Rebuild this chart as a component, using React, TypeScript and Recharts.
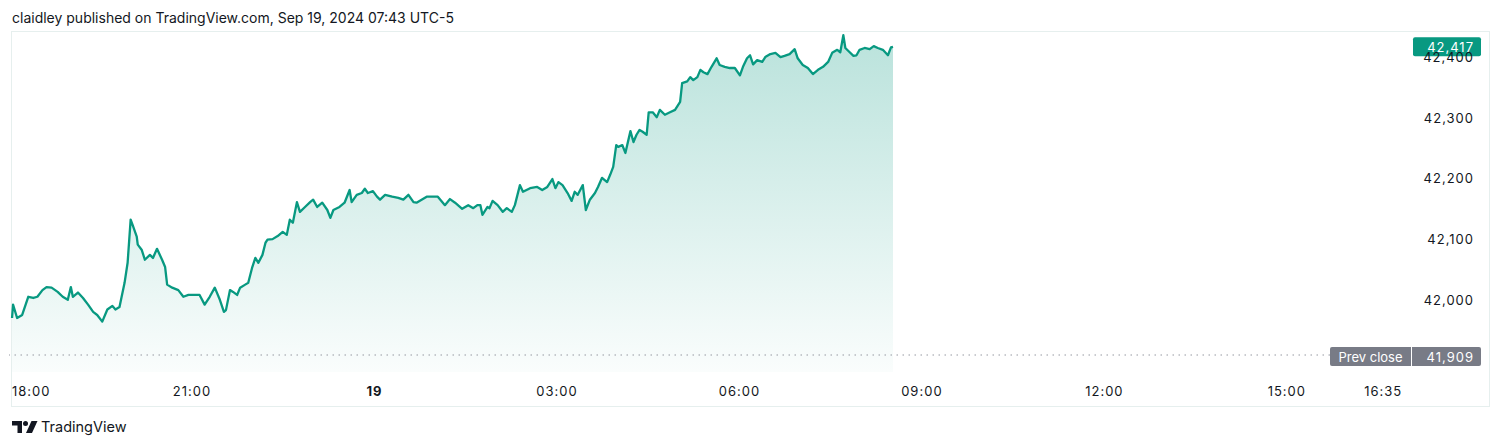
import { ComposedChart, Area, XAxis, YAxis, ReferenceLine } from 'recharts';

// [minutes since 18:00, price]
const evening: [number, number][] = [
  [3, 41970], [4, 41992], [8, 41970], [13, 41975], [19, 42005], [24, 42003], [28, 42005], [33, 42016],
  [37, 42021], [42, 42020], [48, 42013], [53, 42005], [58, 42000], [61, 42021], [63, 42005], [68, 42012],
  [73, 42003], [78, 41992], [83, 41980], [87, 41975], [92, 41964], [97, 41984], [102, 41990], [105, 41984],
  [109, 41988], [114, 42028], [117, 42061], [120, 42132], [122, 42123], [126, 42104], [127, 42091],
  [131, 42082], [134, 42066], [139, 42074], [142, 42069], [146, 42084], [151, 42066], [154, 42054],
  [156, 42025], [161, 42020], [167, 42016], [172, 42005], [177, 42008], [181, 42008], [188, 42008],
  [193, 41992], [198, 42005], [203, 42020], [208, 42000], [212, 41980],
];

const overnight: [number, number][] = [
  [214, 41983], [218, 42016], [221, 42013], [225, 42008], [228, 42020], [233, 42025], [236, 42028],
  [240, 42054], [243, 42069], [246, 42061], [250, 42074], [253, 42094], [255, 42099], [260, 42100],
  [265, 42105], [270, 42112], [274, 42107], [277, 42132], [280, 42127], [284, 42161], [287, 42145],
  [292, 42153], [297, 42161], [300, 42165], [304, 42153], [309, 42160], [314, 42148], [317, 42135],
  [320, 42148], [326, 42153], [331, 42160], [336, 42181], [338, 42161], [343, 42173], [348, 42176],
  [351, 42183], [354, 42176], [359, 42179], [363, 42170], [366, 42165], [371, 42173], [378, 42170],
  [384, 42168], [389, 42165], [394, 42173], [399, 42161], [402, 42160], [407, 42165], [412, 42170],
  [417, 42170], [423, 42170], [430, 42156], [435, 42166],
];

const earlyMorning: [number, number][] = [
  [440, 42160], [447, 42150], [453, 42156], [458, 42151], [462, 42156], [465, 42156], [467, 42140],
  [472, 42153], [474, 42151], [477, 42163], [482, 42156], [487, 42145], [491, 42151], [496, 42145],
  [499, 42156], [504, 42189], [507, 42178], [514, 42184], [521, 42186], [526, 42181], [531, 42186],
  [536, 42199], [539, 42184], [542, 42194], [546, 42189], [551, 42176], [555, 42163], [558, 42178],
  [561, 42173], [566, 42189], [569, 42148], [573, 42165], [578, 42176], [581, 42186], [585, 42201],
  [590, 42194], [593, 42206], [596, 42219], [599, 42255], [601, 42252], [605, 42255], [608, 42242],
  [613, 42278], [616, 42260], [619, 42272], [622, 42280], [625, 42277], [629, 42272], [631, 42309],
  [635, 42309], [639, 42301], [642, 42313], [647, 42305], [652, 42309], [657, 42313],
];

const morning: [number, number][] = [
  [662, 42326], [664, 42357], [669, 42360], [672, 42367], [675, 42362], [679, 42367], [682, 42379],
  [685, 42375], [689, 42372], [693, 42384], [698, 42398], [701, 42387], [706, 42384], [711, 42382],
  [716, 42382], [721, 42370], [724, 42384], [728, 42398], [731, 42403], [734, 42388], [738, 42395],
  [743, 42392], [746, 42400], [751, 42405], [756, 42407], [761, 42400], [765, 42402], [770, 42405],
  [775, 42413], [778, 42398], [783, 42387], [788, 42382], [793, 42372], [798, 42379], [803, 42384],
  [808, 42392], [812, 42407], [817, 42412], [820, 42408], [823, 42436], [825, 42415], [828, 42410],
  [833, 42402], [836, 42403], [839, 42412], [844, 42415], [849, 42413], [853, 42418], [857, 42415],
  [862, 42412], [867, 42403], [870, 42416], [872, 42417],
];

const priceTicks = [42000, 42100, 42200, 42300, 42400];
const timeTicks = [0, 180, 360, 540, 720, 900, 1080, 1260, 1355];
const timeLabels = ['18:00', '21:00', '19', '03:00', '06:00', '09:00', '12:00', '15:00', '16:35'];
const lastPrice = 42417;
const prevClose = 41909;

const data = [...evening, ...overnight, ...earlyMorning, ...morning].map(([t, price]) => ({ t, price }));

const TEXT = '#131722';
const GREEN = '#089981';
const GREY = '#787b86';
const fmt = (v: number) => v.toLocaleString('en-US');

function TimeTick({ x, y, payload }: any) {
  const i = timeTicks.indexOf(payload.value);
  const label = timeLabels[i];
  const first = i === 0;
  return (
    <text
      x={first ? 12 : x + 0.5}
      y={y + 24}
      textAnchor={first ? 'start' : 'middle'}
      fontSize={13}
      letterSpacing={1}
      fill={TEXT}
      fontWeight={label === '19' ? 700 : 400}
    >
      {label}
    </text>
  );
}

function PriceTick({ x, y, payload }: any) {
  return (
    <text x={x + 66} y={y + 5} textAnchor="end" fontSize={13} letterSpacing={1} fill={TEXT}>
      {fmt(payload.value)}
    </text>
  );
}

function LastPriceTag({ viewBox }: any) {
  const left = viewBox.x + viewBox.width + 5;
  return (
    <g>
      <rect x={left} y={viewBox.y - 9.5} width={68} height={19} rx={2} fill={GREEN} />
      <text x={left + 61} y={viewBox.y + 5} textAnchor="end" fontSize={13} letterSpacing={1} fill="#fff">
        {fmt(lastPrice)}
      </text>
    </g>
  );
}

function PrevCloseTag({ viewBox }: any) {
  const right = viewBox.x + viewBox.width;
  return (
    <g>
      <rect x={right - 78} y={viewBox.y - 8} width={151} height={19} rx={2} fill={GREY} />
      <line x1={right + 3.5} x2={right + 3.5} y1={viewBox.y - 8} y2={viewBox.y + 11} stroke="#fff" />
      <text x={right - 37.5} y={viewBox.y + 6.5} textAnchor="middle" fontSize={13} fill="#fff">
        Prev close
      </text>
      <text x={right + 66} y={viewBox.y + 6.5} textAnchor="end" fontSize={13} letterSpacing={1} fill="#fff">
        {fmt(prevClose)}
      </text>
    </g>
  );
}

export default function App() {
  return (
    <div style={{ position: 'relative', width: 1500, height: 448, background: '#fff', fontFamily: 'Inter, sans-serif', color: TEXT }}>
      <style>{'body{margin:0}'}</style>
      <div style={{ position: 'absolute', left: 12, top: 9, fontSize: 14 }}>
        claidley published on TradingView.com, Sep 19, 2024 07:43 UTC-5
      </div>
      <div
        style={{
          position: 'absolute', left: 11, top: 31, width: 1477, height: 374,
          border: '1px solid #e6efee',
        }}
      />
      <div style={{ position: 'absolute', left: 0, top: 0 }}>
        <ComposedChart width={1500} height={448} data={data} margin={{ top: 31, right: 12, bottom: 46, left: 9 }}>
          <defs>
            <linearGradient id="tealFill" x1="0" y1="0" x2="0" y2="1">
              <stop offset="0%" stopColor={GREEN} stopOpacity={0.28} />
              <stop offset="100%" stopColor={GREEN} stopOpacity={0.02} />
            </linearGradient>
          </defs>
          <XAxis
            dataKey="t"
            type="number"
            domain={[0, 1380]}
            ticks={timeTicks}
            interval={0}
            height={30}
            axisLine={false}
            tickLine={false}
            tickSize={0}
            tickMargin={0}
            tick={<TimeTick />}
          />
          <YAxis
            orientation="right"
            type="number"
            domain={[41881, 42443]}
            allowDataOverflow
            ticks={priceTicks}
            width={80}
            axisLine={false}
            tickLine={false}
            tickSize={0}
            tickMargin={0}
            tick={<PriceTick />}
          />
          <ReferenceLine y={prevClose} stroke="#9598a1" strokeDasharray="1.5 4.5" label={(p: any) => <PrevCloseTag {...p} />} />
          <Area
            type="linear"
            dataKey="price"
            stroke={GREEN}
            strokeWidth={2.3}
            strokeLinejoin="round"
            fill="url(#tealFill)"
            fillOpacity={1}
            dot={false}
            activeDot={false}
            isAnimationActive={false}
          />
          <ReferenceLine y={lastPrice} stroke="none" label={(p: any) => <LastPriceTag {...p} />} />
        </ComposedChart>
      </div>
      <div style={{ position: 'absolute', left: 12, top: 418, display: 'flex', alignItems: 'center', gap: 3 }}>
        <svg width={26} height={14} viewBox="0 0 26 14">
          <path d="M0 1h10v12H5.5V5.5H0z" fill={TEXT} />
          <circle cx={13.5} cy={3.5} r={2.5} fill={TEXT} />
          <path d="M19.5 1h6L20 13h-6z" fill={TEXT} />
        </svg>
        <span style={{ fontSize: 14.5 }}>TradingView</span>
      </div>
    </div>
  );
}
